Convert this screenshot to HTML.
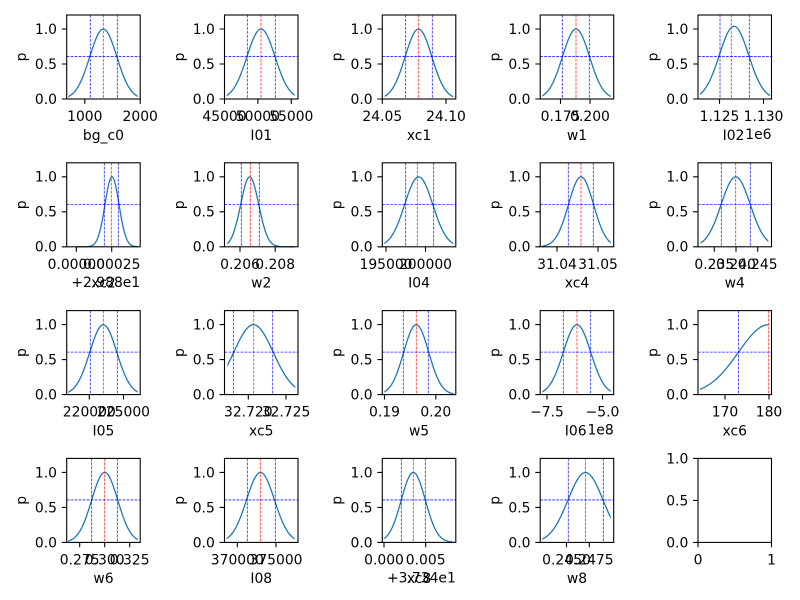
<!DOCTYPE html>
<html><head><meta charset="utf-8"><style>
html,body{margin:0;padding:0;background:#fff}
svg{display:block}
text{font-family:"DejaVu Sans","Liberation Sans",sans-serif;font-size:13.9px;fill:#000}
.e{text-anchor:end}.m{text-anchor:middle}
.sp{fill:none;stroke:#000;stroke-width:1.1}
.tk{stroke:#000;stroke-width:1.1;fill:none}
.r{stroke:#f00;stroke-width:0.8;stroke-dasharray:2.8 1.2;opacity:.85}
.b{stroke:#00f;stroke-width:0.8;stroke-dasharray:2.8 1.2;opacity:.85}
</style></head><body>
<svg width="800" height="600" viewBox="0 0 800 600" xmlns="http://www.w3.org/2000/svg" xmlns:xlink="http://www.w3.org/1999/xlink">
<defs>
<polyline id="g" fill="none" stroke="#1f77b4" stroke-width="1.3" vector-effect="non-scaling-stroke" points="-5,0 -4.5,-0.00004 -4,-0.00034 -3.75,-0.00088 -3.5,-0.00219 -3.25,-0.00508 -3,-0.01111 -2.875,-0.01603 -2.75,-0.02279 -2.625,-0.0319 -2.5,-0.04394 -2.375,-0.0596 -2.25,-0.07956 -2.125,-0.10461 -2,-0.13534 -1.875,-0.17242 -1.75,-0.21627 -1.625,-0.26705 -1.5,-0.32465 -1.375,-0.38856 -1.25,-0.45783 -1.125,-0.53109 -1,-0.60653 -0.875,-0.68194 -0.75,-0.75484 -0.625,-0.82258 -0.5,-0.8825 -0.375,-0.9321 -0.25,-0.96923 -0.125,-0.99222 0,-1 0.125,-0.99222 0.25,-0.96923 0.375,-0.9321 0.5,-0.8825 0.625,-0.82258 0.75,-0.75484 0.875,-0.68194 1,-0.60653 1.125,-0.53109 1.25,-0.45783 1.375,-0.38856 1.5,-0.32465 1.625,-0.26705 1.75,-0.21627 1.875,-0.17242 2,-0.13534 2.125,-0.10461 2.25,-0.07956 2.375,-0.0596 2.5,-0.04394 2.625,-0.0319 2.75,-0.02279 2.875,-0.01603 3,-0.01111 3.25,-0.00508 3.5,-0.00219 3.75,-0.00088 4,-0.00034 4.5,-0.00004 5,0"/>
<clipPath id="c1" clipPathUnits="userSpaceOnUse"><rect x="1.6" y="0" width="69.4" height="85"/></clipPath>
<clipPath id="c2" clipPathUnits="userSpaceOnUse"><rect x="2.2" y="0" width="68" height="85"/></clipPath>
<clipPath id="c3" clipPathUnits="userSpaceOnUse"><rect x="2.4" y="0" width="68.6" height="85"/></clipPath>
<clipPath id="c4" clipPathUnits="userSpaceOnUse"><rect x="2.1" y="0" width="68.4" height="85"/></clipPath>
<clipPath id="c5" clipPathUnits="userSpaceOnUse"><rect x="2" y="0" width="70" height="85"/></clipPath>
<clipPath id="c6" clipPathUnits="userSpaceOnUse"><rect x="1.6" y="0" width="69.4" height="85"/></clipPath>
<clipPath id="c7" clipPathUnits="userSpaceOnUse"><rect x="2.8" y="0" width="67.4" height="85"/></clipPath>
<clipPath id="c8" clipPathUnits="userSpaceOnUse"><rect x="2" y="0" width="69" height="85"/></clipPath>
<clipPath id="c9" clipPathUnits="userSpaceOnUse"><rect x="2.1" y="0" width="68.4" height="85"/></clipPath>
<clipPath id="c10" clipPathUnits="userSpaceOnUse"><rect x="2.7" y="0" width="67.6" height="85"/></clipPath>
<clipPath id="c11" clipPathUnits="userSpaceOnUse"><rect x="1.6" y="0" width="69.4" height="85"/></clipPath>
<clipPath id="c12" clipPathUnits="userSpaceOnUse"><rect x="2.8" y="0" width="68" height="85"/></clipPath>
<clipPath id="c13" clipPathUnits="userSpaceOnUse"><rect x="2" y="0" width="69" height="85"/></clipPath>
<clipPath id="c14" clipPathUnits="userSpaceOnUse"><rect x="2.1" y="0" width="68.4" height="85"/></clipPath>
<clipPath id="c15" clipPathUnits="userSpaceOnUse"><rect x="2" y="0" width="68.7" height="85"/></clipPath>
<clipPath id="c16" clipPathUnits="userSpaceOnUse"><rect x="1.6" y="0" width="69.4" height="85"/></clipPath>
<clipPath id="c17" clipPathUnits="userSpaceOnUse"><rect x="2.2" y="0" width="68" height="85"/></clipPath>
<clipPath id="c18" clipPathUnits="userSpaceOnUse"><rect x="2" y="0" width="69" height="85"/></clipPath>
<clipPath id="c19" clipPathUnits="userSpaceOnUse"><rect x="2.1" y="0" width="68.4" height="85"/></clipPath>
</defs>
<rect width="800" height="600" fill="#fff"/>

<!-- Row 1 -->
<g transform="translate(66.7,15)">
<g clip-path="url(#c1)"><use xlink:href="#g" href="#g" transform="translate(36.6,84) scale(13.5,70)"/></g>
<line class="r" x1="36.6" x2="36.6" y1="0" y2="84"/><line class="b" x1="23.6" x2="23.6" y1="0" y2="84"/><line class="b" x1="50.6" x2="50.6" y1="0" y2="84"/><line class="b" x1="0" x2="73.5" y1="41.54" y2="41.54"/>
<rect class="sp" x="0" y="0" width="73.5" height="84"/>
<path class="tk" d="M-4.9 84H0M-4.9 49H0M-4.9 14H0M18.1 84v4.9M73.5 84v4.9"/>
<text class="e" x="-9.7" y="88.9">0.0</text><text class="e" x="-9.7" y="53.9">0.5</text><text class="e" x="-9.7" y="18.9">1.0</text>
<text class="m" transform="translate(-40.7,42) rotate(-90)">p</text>
<text class="m" x="18.1" y="106">1000</text><text class="m" x="73.5" y="106">2000</text>
<text class="m" x="36.75" y="124.8">bg_c0</text>
</g>

<g transform="translate(224.5,15)">
<g clip-path="url(#c2)"><use xlink:href="#g" href="#g" transform="translate(36.5,84) scale(14,70)"/></g>
<line class="r" x1="36.5" x2="36.5" y1="0" y2="84"/><line class="b" x1="22.8" x2="22.8" y1="0" y2="84"/><line class="b" x1="50.8" x2="50.8" y1="0" y2="84"/><line class="b" x1="0" x2="73.5" y1="41.54" y2="41.54"/>
<rect class="sp" x="0" y="0" width="73.5" height="84"/>
<path class="tk" d="M-4.9 84H0M-4.9 49H0M-4.9 14H0M0 84v4.9M33.4 84v4.9M66.8 84v4.9"/>
<text class="e" x="-9.7" y="88.9">0.0</text><text class="e" x="-9.7" y="53.9">0.5</text><text class="e" x="-9.7" y="18.9">1.0</text>
<text class="m" transform="translate(-40.7,42) rotate(-90)">p</text>
<text class="m" x="0" y="106">45000</text><text class="m" x="33.4" y="106">50000</text><text class="m" x="66.8" y="106">55000</text>
<text class="m" x="36.75" y="124.8">I01</text>
</g>

<g transform="translate(382.3,15)">
<g clip-path="url(#c3)"><use xlink:href="#g" href="#g" transform="translate(36.2,84) scale(13.3,70)"/></g>
<line class="r" x1="36" x2="36" y1="0" y2="84"/><line class="b" x1="23.4" x2="23.4" y1="0" y2="84"/><line class="b" x1="50" x2="50" y1="0" y2="84"/><line class="b" x1="0" x2="73.5" y1="41.54" y2="41.54"/>
<rect class="sp" x="0" y="0" width="73.5" height="84"/>
<path class="tk" d="M-4.9 84H0M-4.9 49H0M-4.9 14H0M0 84v4.9M63.7 84v4.9"/>
<text class="e" x="-9.7" y="88.9">0.0</text><text class="e" x="-9.7" y="53.9">0.5</text><text class="e" x="-9.7" y="18.9">1.0</text>
<text class="m" transform="translate(-40.7,42) rotate(-90)">p</text>
<text class="m" x="0" y="106">24.05</text><text class="m" x="63.7" y="106">24.10</text>
<text class="m" x="36.75" y="124.8">xc1</text>
</g>

<g transform="translate(540.2,15)">
<g clip-path="url(#c4)"><use xlink:href="#g" href="#g" transform="translate(35.8,84) scale(13.5,70)"/></g>
<line class="r" x1="35.8" x2="35.8" y1="0" y2="84"/><line class="b" x1="22.1" x2="22.1" y1="0" y2="84"/><line class="b" x1="49.1" x2="49.1" y1="0" y2="84"/><line class="b" x1="0" x2="73.5" y1="41.54" y2="41.54"/>
<rect class="sp" x="0" y="0" width="73.5" height="84"/>
<path class="tk" d="M-4.9 84H0M-4.9 49H0M-4.9 14H0M20.3 84v4.9M49.8 84v4.9"/>
<text class="e" x="-9.7" y="88.9">0.0</text><text class="e" x="-9.7" y="53.9">0.5</text><text class="e" x="-9.7" y="18.9">1.0</text>
<text class="m" transform="translate(-40.7,42) rotate(-90)">p</text>
<text class="m" x="20.3" y="106">0.175</text><text class="m" x="49.8" y="106">0.200</text>
<text class="m" x="36.75" y="124.8">w1</text>
</g>

<g transform="translate(698,15)">
<g clip-path="url(#c5)"><use xlink:href="#g" href="#g" transform="translate(36,84) scale(14.6,72.8)"/></g>
<line class="r" x1="33.3" x2="33.3" y1="0" y2="84"/><line class="b" x1="22" x2="22" y1="0" y2="84"/><line class="b" x1="51.3" x2="51.3" y1="0" y2="84"/><line class="b" x1="0" x2="73.5" y1="41.54" y2="41.54"/>
<rect class="sp" x="0" y="0" width="73.5" height="84"/>
<path class="tk" d="M-4.9 84H0M-4.9 49H0M-4.9 14H0M21.5 84v4.9M65.5 84v4.9"/>
<text class="e" x="-9.7" y="88.9">0.0</text><text class="e" x="-9.7" y="53.9">0.5</text><text class="e" x="-9.7" y="18.9">1.0</text>
<text class="m" transform="translate(-40.7,42) rotate(-90)">p</text>
<text class="m" x="21.5" y="106">1.125</text><text class="m" x="65.5" y="106">1.130</text>
<text class="m" x="35.5" y="124.8">I02</text>
<text class="e" x="73.5" y="124">1e6</text>
</g>

<!-- Row 2 -->
<g transform="translate(66.7,162.8)">
<g clip-path="url(#c6)"><use xlink:href="#g" href="#g" transform="translate(45.3,84) scale(7,70)"/></g>
<line class="r" x1="44.6" x2="44.6" y1="0" y2="84"/><line class="b" x1="37.6" x2="37.6" y1="0" y2="84"/><line class="b" x1="51.6" x2="51.6" y1="0" y2="84"/><line class="b" x1="0" x2="73.5" y1="41.54" y2="41.54"/>
<rect class="sp" x="0" y="0" width="73.5" height="84"/>
<path class="tk" d="M-4.9 84H0M-4.9 49H0M-4.9 14H0M9.6 84v4.9M45 84v4.9"/>
<text class="e" x="-9.7" y="88.9">0.0</text><text class="e" x="-9.7" y="53.9">0.5</text><text class="e" x="-9.7" y="18.9">1.0</text>
<text class="m" transform="translate(-40.7,42) rotate(-90)">p</text>
<text class="m" x="9.6" y="106">0.00000</text><text class="m" x="45" y="106">0.00025</text>
<text class="m" x="36.75" y="124.8">xc2</text>
<text class="e" x="73.5" y="124">+2.988e1</text>
</g>

<g transform="translate(224.5,162.8)">
<g clip-path="url(#c7)"><use xlink:href="#g" href="#g" transform="translate(25.2,84) scale(9,70)"/></g>
<line class="r" x1="25.8" x2="25.8" y1="0" y2="84"/><line class="b" x1="16.8" x2="16.8" y1="0" y2="84"/><line class="b" x1="34.8" x2="34.8" y1="0" y2="84"/><line class="b" x1="0" x2="73.5" y1="41.54" y2="41.54"/>
<rect class="sp" x="0" y="0" width="73.5" height="84"/>
<path class="tk" d="M-4.9 84H0M-4.9 49H0M-4.9 14H0M15.5 84v4.9M50.7 84v4.9"/>
<text class="e" x="-9.7" y="88.9">0.0</text><text class="e" x="-9.7" y="53.9">0.5</text><text class="e" x="-9.7" y="18.9">1.0</text>
<text class="m" transform="translate(-40.7,42) rotate(-90)">p</text>
<text class="m" x="15.5" y="106">0.206</text><text class="m" x="50.7" y="106">0.208</text>
<text class="m" x="36.75" y="124.8">w2</text>
</g>

<g transform="translate(382.3,162.8)">
<g clip-path="url(#c8)"><use xlink:href="#g" href="#g" transform="translate(36.4,84) scale(14,70)"/></g>
<line class="r" x1="35" x2="35" y1="0" y2="84"/><line class="b" x1="23.4" x2="23.4" y1="0" y2="84"/><line class="b" x1="51.4" x2="51.4" y1="0" y2="84"/><line class="b" x1="0" x2="73.5" y1="41.54" y2="41.54"/>
<rect class="sp" x="0" y="0" width="73.5" height="84"/>
<path class="tk" d="M-4.9 84H0M-4.9 49H0M-4.9 14H0M3.7 84v4.9M43.2 84v4.9"/>
<text class="e" x="-9.7" y="88.9">0.0</text><text class="e" x="-9.7" y="53.9">0.5</text><text class="e" x="-9.7" y="18.9">1.0</text>
<text class="m" transform="translate(-40.7,42) rotate(-90)">p</text>
<text class="m" x="3.7" y="106">195000</text><text class="m" x="43.2" y="106">200000</text>
<text class="m" x="36.75" y="124.8">I04</text>
</g>

<g transform="translate(540.2,162.8)">
<g clip-path="url(#c9)"><use xlink:href="#g" href="#g" transform="translate(40.8,84) scale(12.5,70)"/></g>
<line class="r" x1="40.8" x2="40.8" y1="0" y2="84"/><line class="b" x1="28.1" x2="28.1" y1="0" y2="84"/><line class="b" x1="53.1" x2="53.1" y1="0" y2="84"/><line class="b" x1="0" x2="73.5" y1="41.54" y2="41.54"/>
<rect class="sp" x="0" y="0" width="73.5" height="84"/>
<path class="tk" d="M-4.9 84H0M-4.9 49H0M-4.9 14H0M16.8 84v4.9M57.8 84v4.9"/>
<text class="e" x="-9.7" y="88.9">0.0</text><text class="e" x="-9.7" y="53.9">0.5</text><text class="e" x="-9.7" y="18.9">1.0</text>
<text class="m" transform="translate(-40.7,42) rotate(-90)">p</text>
<text class="m" x="16.8" y="106">31.04</text><text class="m" x="57.8" y="106">31.05</text>
<text class="m" x="36.75" y="124.8">xc4</text>
</g>

<g transform="translate(698,162.8)">
<g clip-path="url(#c10)"><use xlink:href="#g" href="#g" transform="translate(37.7,84) scale(14.5,70)"/></g>
<line class="r" x1="37.7" x2="37.7" y1="0" y2="84"/><line class="b" x1="23.3" x2="23.3" y1="0" y2="84"/><line class="b" x1="52.3" x2="52.3" y1="0" y2="84"/><line class="b" x1="0" x2="73.5" y1="41.54" y2="41.54"/>
<rect class="sp" x="0" y="0" width="73.5" height="84"/>
<path class="tk" d="M-4.9 84H0M-4.9 49H0M-4.9 14H0M16.3 84v4.9M38 84v4.9M59.7 84v4.9"/>
<text class="e" x="-9.7" y="88.9">0.0</text><text class="e" x="-9.7" y="53.9">0.5</text><text class="e" x="-9.7" y="18.9">1.0</text>
<text class="m" transform="translate(-40.7,42) rotate(-90)">p</text>
<text class="m" x="16.3" y="106">0.235</text><text class="m" x="38" y="106">0.240</text><text class="m" x="59.7" y="106">0.245</text>
<text class="m" x="36.75" y="124.8">w4</text>
</g>

<!-- Row 3 -->
<g transform="translate(66.7,310.6)">
<g clip-path="url(#c11)"><use xlink:href="#g" href="#g" transform="translate(36.6,84) scale(13.5,70)"/></g>
<line class="r" x1="36.6" x2="36.6" y1="0" y2="84"/><line class="b" x1="23.6" x2="23.6" y1="0" y2="84"/><line class="b" x1="50.6" x2="50.6" y1="0" y2="84"/><line class="b" x1="0" x2="73.5" y1="41.54" y2="41.54"/>
<rect class="sp" x="0" y="0" width="73.5" height="84"/>
<path class="tk" d="M-4.9 84H0M-4.9 49H0M-4.9 14H0M22.6 84v4.9M56.8 84v4.9"/>
<text class="e" x="-9.7" y="88.9">0.0</text><text class="e" x="-9.7" y="53.9">0.5</text><text class="e" x="-9.7" y="18.9">1.0</text>
<text class="m" transform="translate(-40.7,42) rotate(-90)">p</text>
<text class="m" x="22.6" y="106">220000</text><text class="m" x="56.8" y="106">225000</text>
<text class="m" x="36.75" y="124.8">I05</text>
</g>

<g transform="translate(224.5,310.6)">
<g clip-path="url(#c12)"><use xlink:href="#g" href="#g" transform="translate(29,84) scale(19.7,70)"/></g>
<line class="r" x1="29.2" x2="29.2" y1="0" y2="84"/><line class="b" x1="8.8" x2="8.8" y1="0" y2="84"/><line class="b" x1="48.2" x2="48.2" y1="0" y2="84"/><line class="b" x1="0" x2="73.5" y1="41.54" y2="41.54"/>
<rect class="sp" x="0" y="0" width="73.5" height="84"/>
<path class="tk" d="M-4.9 84H0M-4.9 49H0M-4.9 14H0M23.8 84v4.9M61.5 84v4.9"/>
<text class="e" x="-9.7" y="88.9">0.0</text><text class="e" x="-9.7" y="53.9">0.5</text><text class="e" x="-9.7" y="18.9">1.0</text>
<text class="m" transform="translate(-40.7,42) rotate(-90)">p</text>
<text class="m" x="23.8" y="106">32.720</text><text class="m" x="61.5" y="106">32.725</text>
<text class="m" x="36.75" y="124.8">xc5</text>
</g>

<g transform="translate(382.3,310.6)">
<g clip-path="url(#c13)"><use xlink:href="#g" href="#g" transform="translate(33.9,84) scale(12.5,70)"/></g>
<line class="r" x1="34" x2="34" y1="0" y2="84"/><line class="b" x1="21" x2="21" y1="0" y2="84"/><line class="b" x1="46" x2="46" y1="0" y2="84"/><line class="b" x1="0" x2="73.5" y1="41.54" y2="41.54"/>
<rect class="sp" x="0" y="0" width="73.5" height="84"/>
<path class="tk" d="M-4.9 84H0M-4.9 49H0M-4.9 14H0M2.2 84v4.9M53.5 84v4.9"/>
<text class="e" x="-9.7" y="88.9">0.0</text><text class="e" x="-9.7" y="53.9">0.5</text><text class="e" x="-9.7" y="18.9">1.0</text>
<text class="m" transform="translate(-40.7,42) rotate(-90)">p</text>
<text class="m" x="2.2" y="106">0.19</text><text class="m" x="53.5" y="106">0.20</text>
<text class="m" x="36.75" y="124.8">w5</text>
</g>

<g transform="translate(540.2,310.6)">
<g clip-path="url(#c14)"><use xlink:href="#g" href="#g" transform="translate(36.8,84) scale(13.7,70)"/></g>
<line class="r" x1="36.8" x2="36.8" y1="0" y2="84"/><line class="b" x1="23.1" x2="23.1" y1="0" y2="84"/><line class="b" x1="50.5" x2="50.5" y1="0" y2="84"/><line class="b" x1="0" x2="73.5" y1="41.54" y2="41.54"/>
<rect class="sp" x="0" y="0" width="73.5" height="84"/>
<path class="tk" d="M-4.9 84H0M-4.9 49H0M-4.9 14H0M6.8 84v4.9M62.3 84v4.9"/>
<text class="e" x="-9.7" y="88.9">0.0</text><text class="e" x="-9.7" y="53.9">0.5</text><text class="e" x="-9.7" y="18.9">1.0</text>
<text class="m" transform="translate(-40.7,42) rotate(-90)">p</text>
<text class="m" x="6.8" y="106">−7.5</text><text class="m" x="62.3" y="106">−5.0</text>
<text class="m" x="35.5" y="124.8">I06</text>
<text class="e" x="73.5" y="124">1e8</text>
</g>

<g transform="translate(698,310.6)">
<g clip-path="url(#c15)"><use xlink:href="#g" href="#g" transform="translate(70.7,84) scale(30.2,70)"/></g>
<line class="r" x1="70.7" x2="70.7" y1="0" y2="84"/><line class="b" x1="40.5" x2="40.5" y1="0" y2="84"/><line class="b" x1="0" x2="73.5" y1="41.54" y2="41.54"/>
<rect class="sp" x="0" y="0" width="73.5" height="84"/>
<path class="tk" d="M-4.9 84H0M-4.9 49H0M-4.9 14H0M27 84v4.9M71 84v4.9"/>
<text class="e" x="-9.7" y="88.9">0.0</text><text class="e" x="-9.7" y="53.9">0.5</text><text class="e" x="-9.7" y="18.9">1.0</text>
<text class="m" transform="translate(-40.7,42) rotate(-90)">p</text>
<text class="m" x="27" y="106">170</text><text class="m" x="71" y="106">180</text>
<text class="m" x="36.75" y="124.8">xc6</text>
</g>

<!-- Row 4 -->
<g transform="translate(66.7,458.4)">
<g clip-path="url(#c16)"><use xlink:href="#g" href="#g" transform="translate(38,84) scale(13,70)"/></g>
<line class="r" x1="38" x2="38" y1="0" y2="84"/><line class="b" x1="25" x2="25" y1="0" y2="84"/><line class="b" x1="50.6" x2="50.6" y1="0" y2="84"/><line class="b" x1="0" x2="73.5" y1="41.54" y2="41.54"/>
<rect class="sp" x="0" y="0" width="73.5" height="84"/>
<path class="tk" d="M-4.9 84H0M-4.9 49H0M-4.9 14H0M13 84v4.9M38 84v4.9M63 84v4.9"/>
<text class="e" x="-9.7" y="88.9">0.0</text><text class="e" x="-9.7" y="53.9">0.5</text><text class="e" x="-9.7" y="18.9">1.0</text>
<text class="m" transform="translate(-40.7,42) rotate(-90)">p</text>
<text class="m" x="13" y="106">0.275</text><text class="m" x="38" y="106">0.300</text><text class="m" x="63" y="106">0.325</text>
<text class="m" x="36.75" y="124.8">w6</text>
</g>

<g transform="translate(224.5,458.4)">
<g clip-path="url(#c17)"><use xlink:href="#g" href="#g" transform="translate(36,84) scale(14,70)"/></g>
<line class="r" x1="35.8" x2="35.8" y1="0" y2="84"/><line class="b" x1="22.8" x2="22.8" y1="0" y2="84"/><line class="b" x1="50.8" x2="50.8" y1="0" y2="84"/><line class="b" x1="0" x2="73.5" y1="41.54" y2="41.54"/>
<rect class="sp" x="0" y="0" width="73.5" height="84"/>
<path class="tk" d="M-4.9 84H0M-4.9 49H0M-4.9 14H0M12.8 84v4.9M51.5 84v4.9"/>
<text class="e" x="-9.7" y="88.9">0.0</text><text class="e" x="-9.7" y="53.9">0.5</text><text class="e" x="-9.7" y="18.9">1.0</text>
<text class="m" transform="translate(-40.7,42) rotate(-90)">p</text>
<text class="m" x="12.8" y="106">370000</text><text class="m" x="51.5" y="106">375000</text>
<text class="m" x="36.75" y="124.8">I08</text>
</g>

<g transform="translate(382.3,458.4)">
<g clip-path="url(#c18)"><use xlink:href="#g" href="#g" transform="translate(31,84) scale(12,70)"/></g>
<line class="r" x1="31" x2="31" y1="0" y2="84"/><line class="b" x1="19" x2="19" y1="0" y2="84"/><line class="b" x1="43" x2="43" y1="0" y2="84"/><line class="b" x1="0" x2="73.5" y1="41.54" y2="41.54"/>
<rect class="sp" x="0" y="0" width="73.5" height="84"/>
<path class="tk" d="M-4.9 84H0M-4.9 49H0M-4.9 14H0M1.7 84v4.9M43.4 84v4.9"/>
<text class="e" x="-9.7" y="88.9">0.0</text><text class="e" x="-9.7" y="53.9">0.5</text><text class="e" x="-9.7" y="18.9">1.0</text>
<text class="m" transform="translate(-40.7,42) rotate(-90)">p</text>
<text class="m" x="1.7" y="106">0.000</text><text class="m" x="43.4" y="106">0.005</text>
<text class="m" x="36.75" y="124.8">xc8</text>
<text class="e" x="73.5" y="124">+3.734e1</text>
</g>

<g transform="translate(540.2,458.4)">
<g clip-path="url(#c19)"><use xlink:href="#g" href="#g" transform="translate(45.3,84) scale(17.5,70)"/></g>
<line class="r" x1="45.3" x2="45.3" y1="0" y2="84"/><line class="b" x1="28.1" x2="28.1" y1="0" y2="84"/><line class="b" x1="63.1" x2="63.1" y1="0" y2="84"/><line class="b" x1="0" x2="73.5" y1="41.54" y2="41.54"/>
<rect class="sp" x="0" y="0" width="73.5" height="84"/>
<path class="tk" d="M-4.9 84H0M-4.9 49H0M-4.9 14H0M26.3 84v4.9M49.1 84v4.9"/>
<text class="e" x="-9.7" y="88.9">0.0</text><text class="e" x="-9.7" y="53.9">0.5</text><text class="e" x="-9.7" y="18.9">1.0</text>
<text class="m" transform="translate(-40.7,42) rotate(-90)">p</text>
<text class="m" x="26.3" y="106">0.2450</text><text class="m" x="49.1" y="106">0.2475</text>
<text class="m" x="36.75" y="124.8">w8</text>
</g>

<g transform="translate(698,458.4)">
<rect class="sp" x="0" y="0" width="73.5" height="84"/>
<path class="tk" d="M-4.9 84H0M-4.9 42H0M-4.9 0H0M0 84v4.9M73.5 84v4.9"/>
<text class="e" x="-9.7" y="88.9">0.0</text><text class="e" x="-9.7" y="46.9">0.5</text><text class="e" x="-9.7" y="4.9">1.0</text>
<text class="m" x="0" y="106">0</text><text class="m" x="73.5" y="106">1</text>
</g>
</svg>
</body></html>
